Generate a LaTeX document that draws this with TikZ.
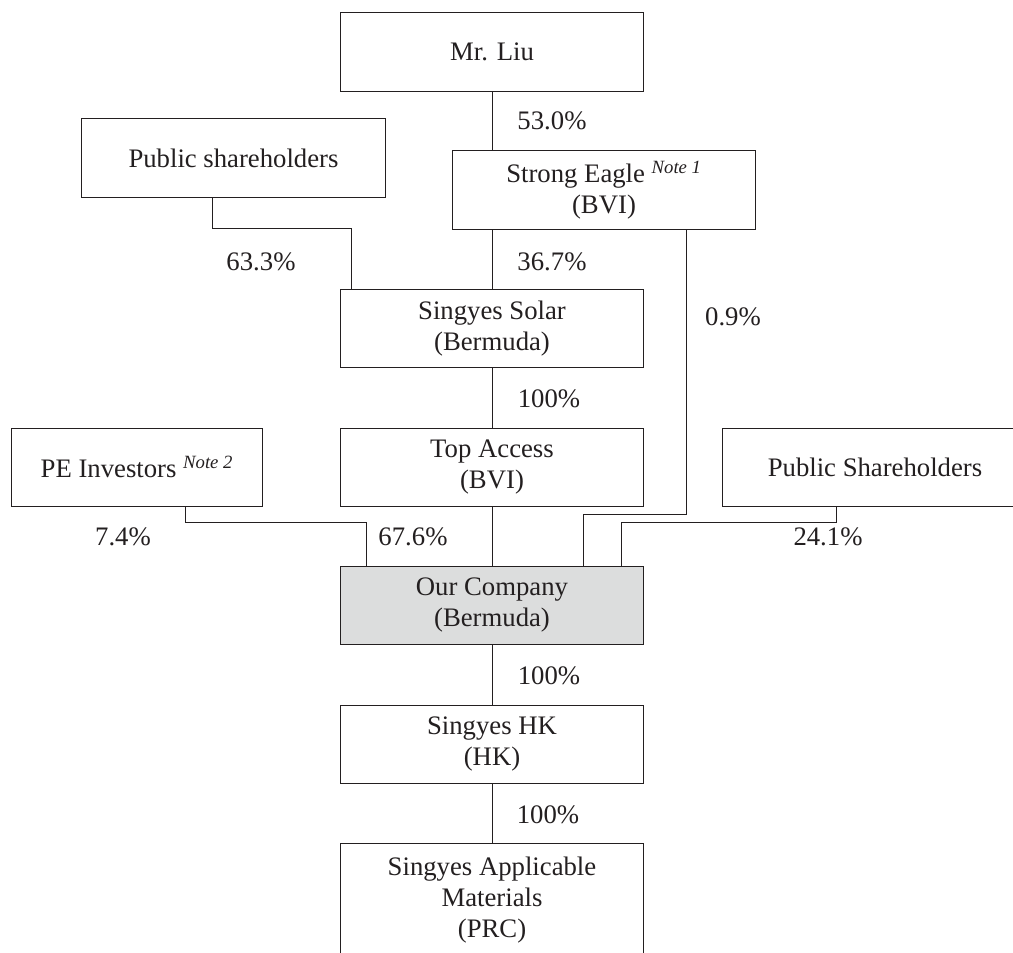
\documentclass[tikz,border=0pt]{standalone}
\usepackage{fontspec}
\setmainfont{Liberation Serif}
\usepackage{xcolor}
\usetikzlibrary{calc}
\definecolor{inkgray}{HTML}{231F20}
\definecolor{cofill}{HTML}{DCDDDD}

\begin{document}
\begin{tikzpicture}[x=0.025cm,y=-0.025cm,line width=0.7pt,
                    draw=inkgray,text=inkgray,
                    entity/.style={rectangle,draw=inkgray,inner sep=0pt,align=center,
                                   minimum width=7.55cm,minimum height=1.95cm,
                                   font=\fontsize{19}{22}\selectfont},
                    pct/.style={inner sep=0pt,font=\fontsize{19}{22}\selectfont}]
\useasboundingbox (0,0) rectangle (1013,953);
\clip (0,0) rectangle (1013,953);

\node[entity] (liu) at (492,52) {Mr. Liu};
\node[entity, minimum width=7.575cm] (pubL) at (233.5,158) {Public shareholders};
\node[entity] (eagle) at (604,190) {Strong Eagle \textsuperscript{\itshape Note 1}\\(BVI)};
\node[entity] (solar) at (492,328.5) {Singyes Solar\\(Bermuda)};
\node[entity, minimum width=6.25cm] (pe) at (137,467) {PE Investors \textsuperscript{\itshape Note 2}};
\node[entity] (top) at (492,467) {Top Access\\(BVI)};
\node[entity, minimum width=7.6cm] (pubR) at (875,467) {Public Shareholders};
\node[entity, fill=cofill] (ourco) at (492,605) {Our Company\\(Bermuda)};
\node[entity] (hk) at (492,744) {Singyes HK\\(HK)};
\node[entity, minimum height=2.85cm] (prc) at (492,900) {Singyes Applicable\\Materials\\(PRC)};

\node[pct] (l530) at (552,121) {53.0\%};
\node[pct] (l633) at (261,262) {63.3\%};
\node[pct] (l367) at (552,262) {36.7\%};
\node[pct] (l09)  at (733,317) {0.9\%};
\node[pct] (l100a) at (549,399) {100\%};
\node[pct] (l74)  at (123,537) {7.4\%};
\node[pct] (l676) at (413,537) {67.6\%};
\node[pct] (l241) at (828,537) {24.1\%};
\node[pct] (l100b) at (549,676) {100\%};
\node[pct] (l100c) at (548,815) {100\%};

% straight links
\draw (liu.south) -- (liu.south |- eagle.north);
\draw (solar.north |- eagle.south) -- (solar.north);
\draw (solar) -- (top);
\draw (top) -- (ourco);
\draw (ourco) -- (hk);
\draw (hk) -- (prc);

% elbow links
\draw ($(pubL.south)+(-21,0)$) -- ++(0,31) -| ($(solar.north)+(-141,0)$);
\draw ($(eagle.south)+(82,0)$) -- ++(0,285) -| ($(ourco.north)+(91,0)$);
\draw ($(pubR.south)+(-39,0)$) -- ++(0,16) -| ($(ourco.north)+(129,0)$);
\draw ($(pe.south)+(48,0)$) -- ++(0,16) -| ($(ourco.north)+(-126,0)$);

\end{tikzpicture}
\end{document}
